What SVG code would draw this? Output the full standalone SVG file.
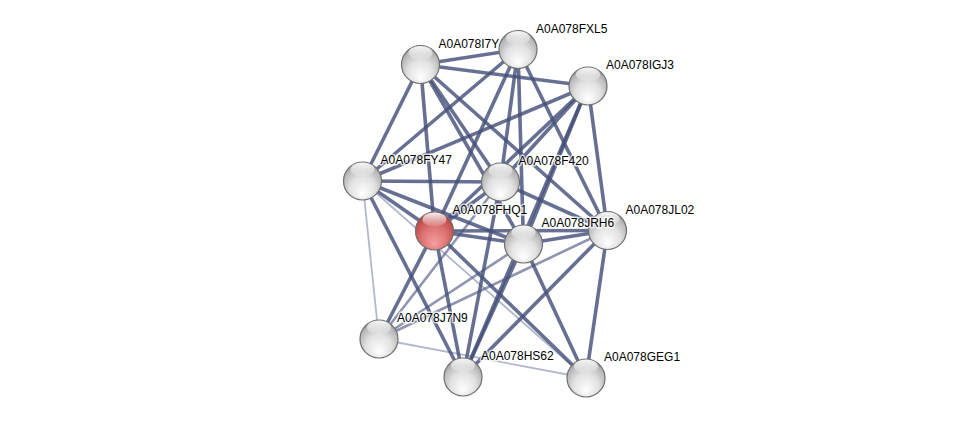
<svg xmlns="http://www.w3.org/2000/svg" width="975" height="423" viewBox="0 0 975 423">
<defs>
<radialGradient id="gw" cx="0.5" cy="0.62" r="0.6" fx="0.5" fy="0.85">
<stop offset="0" stop-color="#ffffff"/>
<stop offset="0.55" stop-color="#e2e2e2"/>
<stop offset="0.9" stop-color="#b4b4b4"/>
<stop offset="1" stop-color="#8e8e8e"/>
</radialGradient>
<radialGradient id="gr" cx="0.5" cy="0.62" r="0.6" fx="0.5" fy="0.85">
<stop offset="0" stop-color="#f7a0a0"/>
<stop offset="0.55" stop-color="#dd7373"/>
<stop offset="0.9" stop-color="#c14c4c"/>
<stop offset="1" stop-color="#9e3030"/>
</radialGradient>
<linearGradient id="hl" x1="0" y1="0" x2="0" y2="1">
<stop offset="0" stop-color="#ffffff" stop-opacity="0.95"/>
<stop offset="1" stop-color="#ffffff" stop-opacity="0.1"/>
</linearGradient>
</defs>
<style>
.e{stroke:#46507a;stroke-width:3.6;stroke-opacity:0.82;fill:none;stroke-linecap:round}
.m{stroke:#5f6890;stroke-width:2.6;stroke-opacity:0.7;fill:none}
.l{stroke:#7f88a8;stroke-width:1.8;stroke-opacity:0.6;fill:none}
.s{stroke:#707070;stroke-width:1.2}
.lab{font-family:"Liberation Sans",Arial,sans-serif;font-size:12px;fill:#000;stroke:#fff;stroke-width:3;stroke-opacity:0.75;paint-order:stroke;stroke-linejoin:round}
</style>
<rect width="975" height="423" fill="#ffffff"/>
<g id="edges">
<line class="l" x1="362.5" y1="181" x2="586" y2="378"/>
<line class="l" x1="362.5" y1="181" x2="379" y2="339"/>
<line class="l" x1="379" y1="339" x2="586" y2="378"/>
<line class="m" x1="379" y1="339" x2="523.5" y2="244"/>
<line class="m" x1="379" y1="339" x2="607.5" y2="230.5"/>
<line class="m" x1="379" y1="339" x2="500.5" y2="182"/>
<line class="e" x1="420.5" y1="64.5" x2="518" y2="49.5"/>
<line class="e" x1="420.5" y1="64.5" x2="588" y2="86"/>
<line class="e" x1="420.5" y1="64.5" x2="362.5" y2="181"/>
<line class="e" x1="420.5" y1="64.5" x2="434.5" y2="231"/>
<line class="e" x1="420.5" y1="64.5" x2="500.5" y2="182"/>
<line class="e" x1="420.5" y1="64.5" x2="523.5" y2="244"/>
<line class="e" x1="420.5" y1="64.5" x2="607.5" y2="230.5"/>
<line class="e" x1="518" y1="49.5" x2="362.5" y2="181"/>
<line class="e" x1="518" y1="49.5" x2="500.5" y2="182"/>
<line class="e" x1="518" y1="49.5" x2="523.5" y2="244"/>
<line class="e" x1="518" y1="49.5" x2="607.5" y2="230.5"/>
<line class="e" x1="518" y1="49.5" x2="434.5" y2="231"/>
<line class="e" x1="588" y1="86" x2="362.5" y2="181"/>
<line class="e" x1="588" y1="86" x2="500.5" y2="182"/>
<line class="e" x1="588" y1="86" x2="434.5" y2="231"/>
<line class="e" x1="588" y1="86" x2="523.5" y2="244"/>
<line class="e" x1="588" y1="86" x2="607.5" y2="230.5"/>
<line class="e" x1="588" y1="86" x2="463" y2="377"/>
<line class="e" x1="362.5" y1="181" x2="500.5" y2="182"/>
<line class="e" x1="362.5" y1="181" x2="434.5" y2="231"/>
<line class="e" x1="362.5" y1="181" x2="523.5" y2="244"/>
<line class="e" x1="362.5" y1="181" x2="463" y2="377"/>
<line class="e" x1="500.5" y1="182" x2="434.5" y2="231"/>
<line class="e" x1="500.5" y1="182" x2="607.5" y2="230.5"/>
<line class="e" x1="500.5" y1="182" x2="463" y2="377"/>
<line class="e" x1="434.5" y1="231" x2="523.5" y2="244"/>
<line class="e" x1="434.5" y1="231" x2="607.5" y2="230.5"/>
<line class="e" x1="434.5" y1="231" x2="379" y2="339"/>
<line class="e" x1="434.5" y1="231" x2="463" y2="377"/>
<line class="e" x1="434.5" y1="231" x2="586" y2="378"/>
<line class="e" x1="523.5" y1="244" x2="607.5" y2="230.5"/>
<line class="e" x1="523.5" y1="244" x2="463" y2="377"/>
<line class="e" x1="523.5" y1="244" x2="586" y2="378"/>
<line class="e" x1="607.5" y1="230.5" x2="463" y2="377"/>
<line class="e" x1="607.5" y1="230.5" x2="586" y2="378"/>
</g>
<g id="n-I7Y"><circle class="s" cx="420.5" cy="64.5" r="19" fill="url(#gw)"/><ellipse cx="420.5" cy="53" rx="12" ry="7" fill="url(#hl)"/><text class="lab" x="438.5" y="47.5">A0A078I7Y</text></g>
<g id="n-FXL5"><circle class="s" cx="518" cy="49.5" r="19" fill="url(#gw)"/><ellipse cx="518" cy="38" rx="12" ry="7" fill="url(#hl)"/><text class="lab" x="536" y="32.5">A0A078FXL5</text></g>
<g id="n-IGJ3"><circle class="s" cx="588" cy="86" r="19" fill="url(#gw)"/><ellipse cx="588" cy="74.5" rx="12" ry="7" fill="url(#hl)"/><text class="lab" x="606" y="69">A0A078IGJ3</text></g>
<g id="n-FY47"><circle class="s" cx="362.5" cy="181" r="19" fill="url(#gw)"/><ellipse cx="362.5" cy="169.5" rx="12" ry="7" fill="url(#hl)"/><text class="lab" x="380.5" y="164">A0A078FY47</text></g>
<g id="n-F420"><circle class="s" cx="500.5" cy="182" r="19" fill="url(#gw)"/><ellipse cx="500.5" cy="170.5" rx="12" ry="7" fill="url(#hl)"/><text class="lab" x="518.5" y="165">A0A078F420</text></g>
<g id="n-FHQ1"><circle class="s" cx="434.5" cy="231" r="19" fill="url(#gr)" stroke="#8a3030"/><ellipse cx="434.5" cy="219.5" rx="12" ry="7" fill="url(#hl)"/><text class="lab" x="452.5" y="214">A0A078FHQ1</text></g>
<g id="n-JL02"><circle class="s" cx="607.5" cy="230.5" r="19" fill="url(#gw)"/><ellipse cx="607.5" cy="219" rx="12" ry="7" fill="url(#hl)"/><text class="lab" x="625.5" y="213.5">A0A078JL02</text></g>
<g id="n-JRH6"><circle class="s" cx="523.5" cy="244" r="19" fill="url(#gw)"/><ellipse cx="523.5" cy="232.5" rx="12" ry="7" fill="url(#hl)"/><text class="lab" x="541.5" y="227">A0A078JRH6</text></g>
<g id="n-J7N9"><circle class="s" cx="379" cy="339" r="19" fill="url(#gw)"/><ellipse cx="379" cy="327.5" rx="12" ry="7" fill="url(#hl)"/><text class="lab" x="397" y="322">A0A078J7N9</text></g>
<g id="n-HS62"><circle class="s" cx="463" cy="377" r="19" fill="url(#gw)"/><ellipse cx="463" cy="365.5" rx="12" ry="7" fill="url(#hl)"/><text class="lab" x="481" y="360">A0A078HS62</text></g>
<g id="n-GEG1"><circle class="s" cx="586" cy="378" r="19" fill="url(#gw)"/><ellipse cx="586" cy="366.5" rx="12" ry="7" fill="url(#hl)"/><text class="lab" x="604" y="361">A0A078GEG1</text></g>
</svg>
